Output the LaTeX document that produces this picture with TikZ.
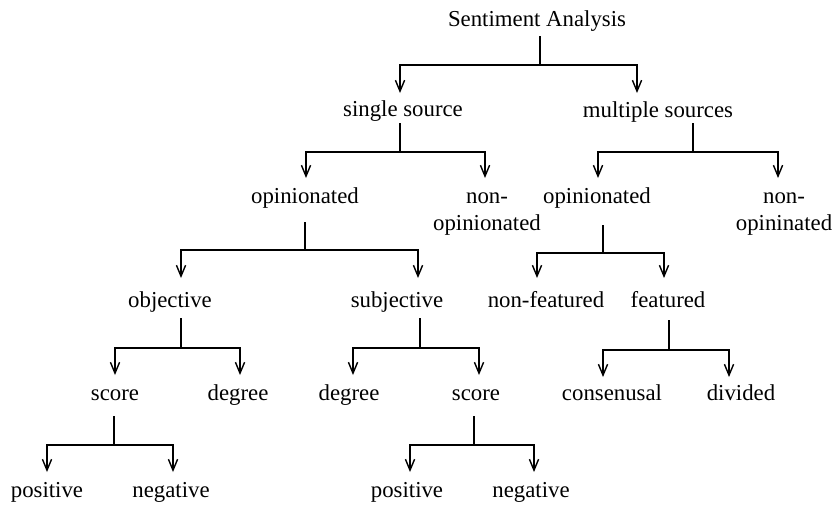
\documentclass[tikz,border=0pt]{standalone}
\usepackage{fontspec}
\setmainfont{Liberation Serif}
\usetikzlibrary{arrows.meta,calc}

\tikzset{
    cat/.style={anchor=base, inner sep=0pt, align=center,
        font=\fontsize{11.4}{13.5}\selectfont},
    link/.style={line width=0.7pt, -{Straight Barb[length=5.5pt,width=4.6pt]}},
}

\begin{document}
\begin{tikzpicture}[x=0.5pt, y=-0.5pt]
        \useasboundingbox (0,0) rectangle (838,504);

        \node[cat] (root) at (537, 26) {Sentiment Analysis};

        \node[cat] (ss)   at (403, 116) {single source};
        \node[cat] (ms)   at (658, 117) {multiple sources};

        % two-line nodes sit on the baseline of their last line
        \node[cat] (opl)  at (305, 203) {opinionated};
        \node[cat] (nopl) at (487, 230) {non-\\opinionated};
        \node[cat] (opr)  at (597, 203) {opinionated};
        \node[cat] (nopr) at (784, 230) {non-\\opininated};

        \node[cat] (obj)  at (170, 307) {objective};
        \node[cat] (subj) at (397, 307) {subjective};
        \node[cat] (nf)   at (546, 307) {non-featured};
        \node[cat] (feat) at (668, 307) {featured};

        \node[cat] (scl)  at (115, 400) {score};
        \node[cat] (degl) at (238, 400) {degree};
        \node[cat] (degm) at (349, 400) {degree};
        \node[cat] (scm)  at (476, 400) {score};
        \node[cat] (cons) at (612, 400) {consenusal};
        \node[cat] (div)  at (741, 400) {divided};

        \node[cat] (posl) at (47, 497)  {positive};
        \node[cat] (negl) at (171, 497) {negative};
        \node[cat] (posm) at (407, 497) {positive};
        \node[cat] (negm) at (531, 497) {negative};

        % stem down, bar across, arrow into child
        \draw[link] ($(root.base)+(3,10)$) -- ++(0,29) -| ($(ss.base)+(-3,-23)$);
        \draw[link] ($(root.base)+(3,10)$) -- ++(0,29) -| ($(ms.base)+(-21,-24)$);

        \draw[link] ($(ss.base)+(-3,7)$) -- ++(0,29) -| ($(opl.base)+(1,-25)$);
        \draw[link] ($(ss.base)+(-3,7)$) -- ++(0,29) -| ($(nopl.base)+(-2,-52)$);

        \draw[link] ($(ms.base)+(35,6)$) -- ++(0,29) -| ($(opr.base)+(1,-25)$);
        \draw[link] ($(ms.base)+(35,6)$) -- ++(0,29) -| ($(nopr.base)+(-6,-52)$);

        \draw[link] ($(opl.base)+(0,19)$) -- ++(0,28) -| ($(obj.base)+(11,-29)$);
        \draw[link] ($(opl.base)+(0,19)$) -- ++(0,28) -| ($(subj.base)+(21,-29)$);

        \draw[link] ($(opr.base)+(6,22)$) -- ++(0,28) -| ($(nf.base)+(-9,-29)$);
        \draw[link] ($(opr.base)+(6,22)$) -- ++(0,28) -| ($(feat.base)+(-4,-29)$);

        \draw[link] ($(obj.base)+(11,11)$) -- ++(0,30) -| ($(scl.base)+(0,-25)$);
        \draw[link] ($(obj.base)+(11,11)$) -- ++(0,30) -| ($(degl.base)+(2,-25)$);

        \draw[link] ($(subj.base)+(23,11)$) -- ++(0,30) -| ($(degm.base)+(4,-25)$);
        \draw[link] ($(subj.base)+(23,11)$) -- ++(0,30) -| ($(scm.base)+(3,-25)$);

        \draw[link] ($(feat.base)+(1,13)$) -- ++(0,30) -| ($(cons.base)+(-9,-23)$);
        \draw[link] ($(feat.base)+(1,13)$) -- ++(0,30) -| ($(div.base)+(-12,-23)$);

        \draw[link] ($(scl.base)+(-1,16)$) -- ++(0,29) -| ($(posl.base)+(0,-25)$);
        \draw[link] ($(scl.base)+(-1,16)$) -- ++(0,29) -| ($(negl.base)+(2,-25)$);

        \draw[link] ($(scm.base)+(-2,16)$) -- ++(0,29) -| ($(posm.base)+(3,-25)$);
        \draw[link] ($(scm.base)+(-2,16)$) -- ++(0,29) -| ($(negm.base)+(3,-25)$);
\end{tikzpicture}
\end{document}
